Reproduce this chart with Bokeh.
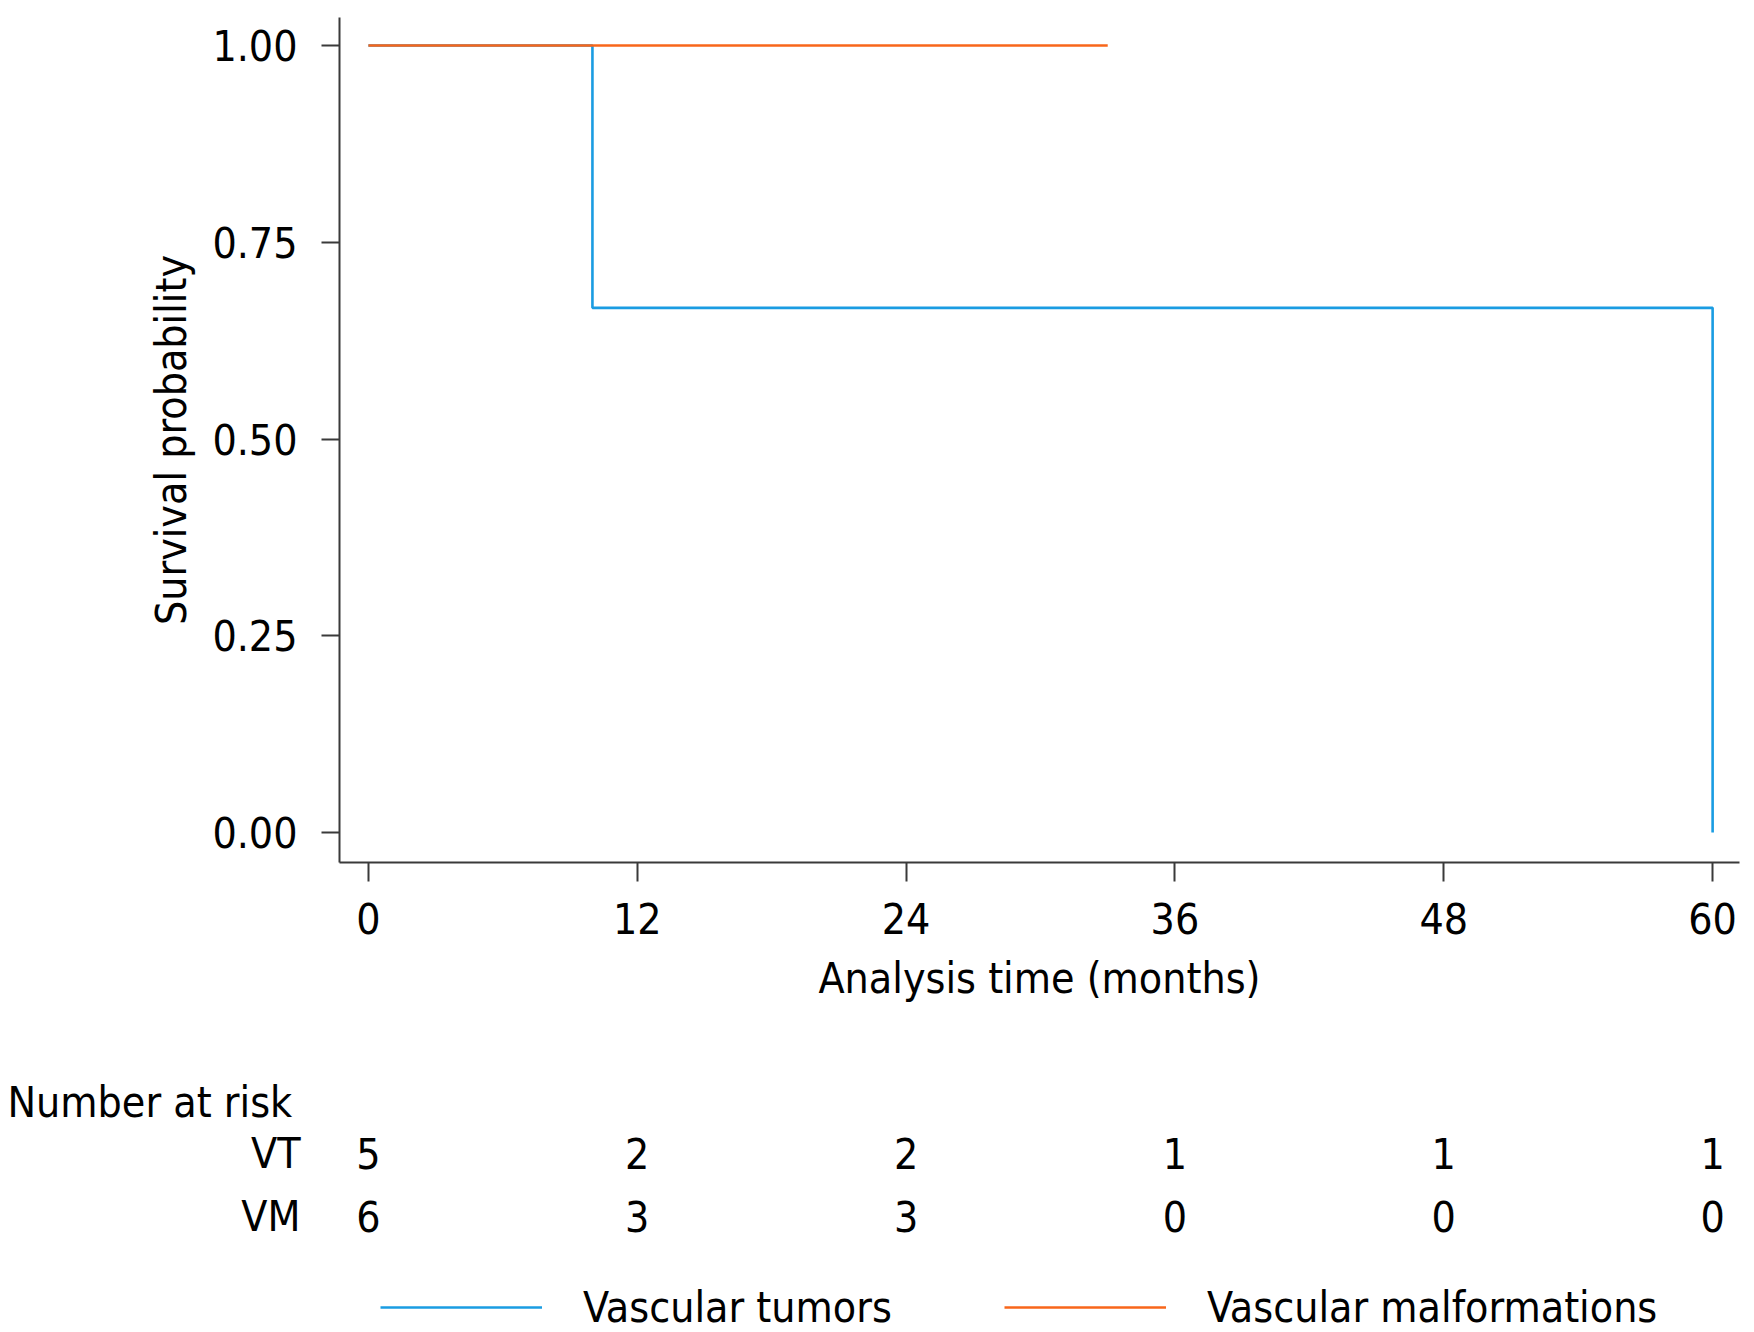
from bokeh.plotting import figure
from bokeh.layouts import column
from bokeh.models import (Range1d, FixedTicker, PrintfTickFormatter,
                          Legend, LegendItem)
from bokeh.core.properties import value
from bokeh.embed import file_html
from bokeh.resources import INLINE

# ---- data ----
risk_times = [0, 12, 24, 36, 48, 60]
vt_at_risk = [5, 2, 2, 1, 1, 1]
vm_at_risk = [6, 3, 3, 0, 0, 0]
vt_time = [0, 10, 60]
vt_surv = [1.0, 0.6667, 0.0]
vm_time = [0, 33]
vm_surv = [1.0, 1.0]
y_ticks = [0.0, 0.25, 0.5, 0.75, 1.0]
group_labels = ["VT", "VM"]
legend_names = ["Vascular tumors", "Vascular malformations"]

FONT = "DejaVu Sans Condensed"
FS = "42.5px"
BLUE = "#1a9ce2"
ORANGE = "#f8661a"
AX = "#3a3a3a"

W = 1754
H_MAIN = 1020
H_BOT = 312
BL, BR, BT = 339, 15, 17
FRAME_W = W - BL - BR
X0, X1 = -1.29, 61.2

p = figure(width=W, height=H_MAIN, output_backend="svg", toolbar_location=None,
           x_range=Range1d(X0, X1), y_range=Range1d(-0.038, 1.0356),
           min_border_left=BL, min_border_right=BR, min_border_top=BT,
           min_border_bottom=H_MAIN - 862)
p.frame_align = False
p.outline_line_color = None
p.grid.visible = False
p.background_fill_color = "white"
p.border_fill_color = "white"

r_vt = p.step(vt_time, vt_surv, mode="after", line_color=BLUE, line_width=2.6)
r_vm = p.step(vm_time, vm_surv, mode="after", line_color=ORANGE, line_width=2.6)

for ax in (p.xaxis[0], p.yaxis[0]):
    ax.axis_line_color = AX
    ax.axis_line_width = 2
    ax.major_tick_line_color = AX
    ax.major_tick_line_width = 2
    ax.minor_tick_line_color = None
    ax.major_tick_in = 0
    ax.major_label_text_font = FONT
    ax.major_label_text_font_size = FS
    ax.major_label_text_color = "black"
    ax.axis_label_text_font = FONT
    ax.axis_label_text_font_size = FS
    ax.axis_label_text_font_style = "normal"
    ax.axis_label_text_color = "black"

p.xaxis.ticker = FixedTicker(ticks=risk_times)
p.xaxis.major_tick_out = 19
p.xaxis.major_label_standoff = 21
p.xaxis.axis_label = "Analysis time (months)"
p.xaxis.axis_label_standoff = 17

p.yaxis.ticker = FixedTicker(ticks=y_ticks)
p.yaxis.formatter = PrintfTickFormatter(format="%.2f")
p.yaxis.major_tick_out = 18
p.yaxis.major_label_standoff = 24
p.yaxis.axis_label = "Survival probability"
p.yaxis.axis_label_standoff = 13

# ---- bottom panel: number at risk table + legend, same x mapping ----
mpp = (X1 - X0) / FRAME_W          # months per pixel
bx0 = X0 - BL * mpp
bx1 = X1 + BR * mpp


def px2m(px):
    return bx0 + px * mpp


q = figure(width=W, height=H_BOT, output_backend="svg", toolbar_location=None,
           x_range=Range1d(bx0, bx1), y_range=Range1d(H_BOT, 0),
           min_border_left=0, min_border_right=0, min_border_top=0,
           min_border_bottom=0)
q.frame_align = False
q.axis.visible = False
q.grid.visible = False
q.outline_line_color = None
q.background_fill_color = "white"
q.border_fill_color = "white"

txt = dict(text_font=value(FONT), text_font_size=FS, text_color="black",
           text_baseline="middle")
row_y = [133, 196]
q.text(x=[px2m(7)], y=[82], text=["Number at risk"], text_align="left", **txt)
for lab, yy, counts in zip(group_labels, row_y, [vt_at_risk, vm_at_risk]):
    q.text(x=[px2m(300)], y=[yy], text=[lab], text_align="right", **txt)
    q.text(x=risk_times, y=[yy] * len(risk_times), text=[str(n) for n in counts],
           text_align="center", **txt)

nan = float("nan")
l_vt = q.line(x=[nan], y=[nan], line_color=BLUE, line_width=2.6)
l_vm = q.line(x=[nan], y=[nan], line_color=ORANGE, line_width=2.6)
for rend, name, lx in zip([l_vt, l_vm], legend_names, [380, 1004]):
    lg = Legend(items=[LegendItem(label=name, renderers=[rend])],
                location=(lx, 0), orientation="horizontal",
                glyph_width=162, glyph_height=50, label_height=50,
                label_standoff=41, padding=0, margin=0, spacing=0,
                border_line_color=None, background_fill_alpha=0,
                label_text_font=FONT, label_text_font_size=FS,
                label_text_color="black")
    q.add_layout(lg, "center")

layout = column(p, q, spacing=0)
open("out.html", "w").write(file_html(layout, INLINE))
